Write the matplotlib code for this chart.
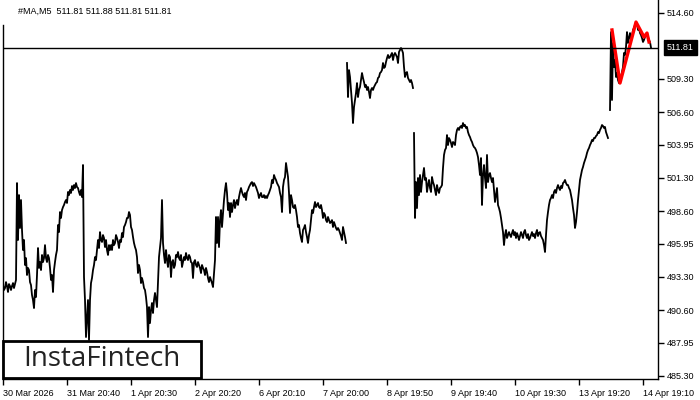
import numpy as np
import matplotlib
matplotlib.use("Agg")
import matplotlib.pyplot as plt
from matplotlib.patches import Rectangle

# ---------------- Data ----------------
title = "#MA,M5  511.81 511.88 511.81 511.81"
last_price = 511.81

time_labels = ["30 Mar 2026", "31 Mar 20:40", "1 Apr 20:30", "2 Apr 20:20",
               "6 Apr 20:10", "7 Apr 20:00", "8 Apr 19:50", "9 Apr 19:40",
               "10 Apr 19:30", "13 Apr 19:20", "14 Apr 19:10"]
time_step = 64  # chart steps between time labels

price_ticks = [514.60, 509.30, 506.60, 503.95, 501.30, 498.60,
               495.95, 493.30, 490.60, 487.95, 485.30]

# price segments (chart step index where each one starts, then values)
seg1_start = 0
seg1 = [492.62, 492.22, 492.38, 492.86, 492.54, 492.06, 492.70, 492.54, 492.22, 492.54,
        492.78, 492.38, 492.70, 493.03, 500.86, 496.26, 499.89, 497.23, 499.49, 497.07,
        495.45, 496.26, 494.24, 494.80, 493.43, 494.00, 493.83, 492.86, 492.62, 491.81,
        491.41, 490.76, 492.22, 491.65, 493.43, 495.61, 494.00, 494.48, 493.83, 495.05,
        494.48, 494.80, 495.85, 494.80, 494.48, 495.05, 494.80, 494.00, 493.03, 493.43,
        492.06, 493.83, 494.48, 495.05, 495.45, 497.47, 496.90, 498.52, 498.04, 498.68,
        498.92, 499.09, 499.33, 499.49, 499.25, 500.14, 499.89, 500.30, 500.06, 500.62,
        500.30, 500.70, 500.46, 500.86, 500.54, 500.46, 500.14, 499.89, 500.30, 499.73,
        502.32, 493.27, 491.41, 488.42, 489.96, 491.41, 488.18, 491.41, 492.78, 493.19,
        493.83, 494.24, 494.88, 494.64, 495.45, 496.26, 495.61, 496.90, 496.26, 496.10,
        496.66, 496.42, 495.69, 496.26, 495.45, 495.05, 495.85, 495.45, 495.85, 495.45,
        496.26, 495.85, 496.02, 496.66, 496.42, 496.10, 495.61, 496.26, 496.10, 496.82,
        496.50, 497.31, 497.47, 497.71, 498.04, 498.04, 498.52, 498.28, 497.31, 497.07,
        496.50, 496.02, 495.69, 495.45, 494.88, 493.59, 494.24, 493.83, 492.78, 493.19,
        492.86, 492.38, 492.22, 491.65, 490.84, 488.42, 490.84, 489.55, 490.60, 491.17,
        490.36, 491.41, 491.98, 491.41, 490.84, 492.78, 494.88, 495.61, 496.42, 499.49,
        496.02, 495.05, 494.40, 495.45, 494.64, 494.08, 495.05, 494.88, 493.27, 494.48,
        494.64, 494.00, 494.24, 495.05, 494.88, 495.29, 494.80, 494.64, 495.05, 494.08,
        494.48, 494.88, 494.64, 495.21, 494.80, 494.64, 495.05, 494.88, 494.48, 494.40,
        493.19, 494.48, 494.64, 494.24, 494.08, 494.48, 494.24, 494.00, 493.59, 494.24,
        494.00, 493.83, 493.43, 494.00, 493.67, 493.19, 492.86, 493.27, 493.03, 492.78,
        492.46, 493.59, 494.64, 498.12, 496.02, 498.12, 495.69, 497.87, 498.68, 497.31,
        498.44, 499.49, 500.30, 500.86, 500.06, 498.68, 499.25, 498.12, 499.25, 498.52,
        499.09, 499.49, 498.84, 499.25, 499.49, 499.09, 499.73, 500.14, 500.46, 500.14,
        499.89, 499.73, 500.06, 499.49, 500.14, 500.30, 500.54, 500.70, 500.86, 500.94,
        500.62, 500.86, 500.70, 500.54, 500.30, 500.06, 499.65, 499.89, 500.06, 499.73,
        499.73, 499.89, 499.65, 499.81, 499.65, 499.89, 500.06, 500.30, 500.54, 501.11,
        500.86, 501.51, 501.27, 501.11, 500.86, 500.70, 500.54, 500.06, 499.73, 498.52,
        500.54, 501.11, 501.35, 502.48, 501.91, 501.35, 500.06, 498.44, 499.89, 499.49,
        498.92, 498.84, 499.09, 498.68, 498.12, 497.31, 497.47, 496.82, 496.42, 496.10,
        497.07, 497.23, 497.47, 496.90, 496.50, 496.02, 496.66, 497.07, 497.87, 498.68,
        498.44, 498.92, 499.33, 498.92, 499.09, 499.25, 498.92, 498.84, 499.09, 498.68,
        498.04, 498.44, 498.28, 497.87, 497.71, 498.12, 497.87, 497.63, 497.71, 497.87,
        497.31, 497.71, 497.47, 497.23, 497.07, 497.23, 497.07, 496.82, 496.58, 496.26,
        497.31, 496.90, 496.50, 496.02]

seg2_start = 344
seg2 = [510.56, 507.81, 509.99, 509.43, 508.38, 507.33, 505.71, 507.00, 507.57, 508.14,
        508.94, 507.81, 508.38, 508.62, 509.19, 509.75, 509.35, 509.02, 508.62, 508.78,
        508.38, 508.62, 508.22, 507.73, 508.38, 508.54, 508.38, 508.62, 508.78, 508.94,
        509.02, 509.35, 509.43, 509.75, 509.83, 509.99, 510.56, 510.16, 510.24, 510.64,
        510.96, 511.21, 510.96, 511.04, 511.21, 511.37, 510.80, 511.21, 511.37, 511.21,
        511.04, 510.56, 511.45, 511.61, 511.77, 511.61, 511.37, 510.24, 509.43, 509.75,
        509.83, 509.35, 509.19, 509.02, 509.19, 508.94, 508.54]

seg3_start = 411
seg3 = [504.90, 498.04, 500.94, 498.84, 501.27, 499.89, 501.51, 500.14, 500.94, 501.51,
        502.08, 501.11, 501.27, 500.14, 500.70, 501.11, 500.46, 500.14, 501.35, 500.94,
        500.70, 500.30, 499.89, 500.70, 500.30, 500.06, 500.46, 500.54, 500.70, 502.08,
        503.13, 503.53, 503.69, 504.74, 503.93, 504.50, 504.34, 504.10, 503.77, 504.18,
        504.10, 503.93, 504.74, 505.15, 505.31, 505.15, 505.39, 505.47, 505.31, 505.71,
        505.47, 505.55, 505.31, 505.39, 504.98, 504.74, 504.58, 504.34, 504.18, 503.93,
        503.77, 503.69, 503.53, 503.29, 502.96, 502.32, 501.51, 502.88, 499.09, 501.51,
        502.32, 501.27, 500.46, 503.13, 500.94, 501.51, 501.67, 501.27, 500.94, 501.27,
        500.30, 499.33, 499.89, 500.46, 499.09, 498.84, 498.52, 498.04, 497.47, 496.90,
        495.85, 496.66, 497.07, 496.42, 496.66, 496.90, 496.66, 496.50, 496.82, 497.07,
        496.66, 496.90, 496.42, 496.82, 496.58, 496.26, 496.58, 496.90, 496.66, 496.42,
        496.90, 497.07, 496.66, 496.42, 496.74, 496.26, 496.42, 496.66, 496.90, 496.58,
        496.74, 496.42, 496.82, 497.07, 496.58, 496.82, 496.90, 496.58, 496.42, 496.26,
        495.85, 495.29, 496.66, 497.87, 498.52, 499.09, 499.49, 499.65, 499.89, 499.65,
        500.14, 500.30, 500.06, 500.46, 500.70, 500.46, 500.30, 500.62, 500.46, 500.86,
        500.94, 501.11, 500.86, 500.70, 500.70, 500.46, 500.30, 499.89, 499.49, 498.84,
        498.28, 497.23, 497.71, 498.52, 499.49, 500.30, 501.11, 501.51, 501.91, 502.16,
        502.48, 502.72, 502.96, 503.29, 503.53, 503.69, 503.93, 504.10, 504.34, 504.26,
        504.50, 504.50, 504.66, 504.74, 504.98, 504.90, 505.15, 505.31, 505.55, 505.47,
        505.31, 505.39, 504.98, 504.74, 504.50]

seg4_start = 607
seg4 = [506.76, 513.06, 507.57, 512.18, 510.24, 510.80, 509.43, 509.75, 509.19, 508.94,
        509.35, 509.43, 509.83, 510.24, 511.37, 511.21, 511.85, 513.06, 512.18, 512.58,
        512.98, 512.42, 512.66, 513.23, 513.39, 513.63, 513.71, 513.79, 513.23, 513.39,
        512.98, 512.82, 512.58, 512.26, 512.42, 512.66, 512.82, 512.98, 512.66, 512.42,
        512.26, 511.81]

# red pattern overlay
pattern_x = [609, 617, 633, 641, 644, 646]
pattern_y = [513.23, 508.94, 513.87, 512.66, 512.98, 512.26]

# ---------------- Figure ----------------
W, H = 700, 400
plt.rcParams["font.family"] = ["Liberation Sans", "DejaVu Sans"]
fig = plt.figure(figsize=(7, 4), dpi=100)
ax = fig.add_axes([3 / W, 21 / H, 655 / W, 379 / H])
ax.set_xlim(0, 655)
ax.set_ylim(485.03, 515.65)

for start, vals in [(seg1_start, seg1), (seg2_start, seg2),
                    (seg3_start, seg3), (seg4_start, seg4)]:
    xs = np.arange(start, start + len(vals))
    ax.plot(xs, vals, color="black", lw=1.3)

ax.plot(pattern_x, pattern_y, color="#ff0000", lw=2.4, solid_joinstyle="round")
ax.axhline(last_price, color="black", lw=1.0)

# axes look
ax.spines["top"].set_visible(False)
ax.spines["left"].set_bounds(485.03, 513.63)
for s in ["left", "right", "bottom"]:
    ax.spines[s].set_linewidth(1.0)

ax.yaxis.tick_right()
ax.set_yticks(price_ticks)
ax.set_yticklabels([f"{p:.2f}" for p in price_ticks])
ax.tick_params(axis="y", direction="out", length=4, width=1, labelsize=6.5, pad=2)

xt = np.arange(len(time_labels)) * time_step
ax.set_xticks(xt)
ax.set_xticklabels(time_labels, ha="left")
ax.tick_params(axis="x", direction="out", length=4, width=1, labelsize=6.5, pad=3)

# last price tag
ax.annotate(f"{last_price:.2f}", xy=(1, last_price), xycoords=("axes fraction", "data"),
            xytext=(6.5, 0), textcoords="offset points", color="white", fontsize=6.5,
            va="center", ha="left",
            bbox=dict(boxstyle="square,pad=0.35", fc="black", ec="black"),
            annotation_clip=False)

fig.text(18 / W, 1 - 11 / H, title, fontsize=6.5, va="center", ha="left")

# logo
fig.add_artist(Rectangle((3 / W, 1 - 378 / H), 198 / W, 37 / H, transform=fig.transFigure,
                         facecolor="white", edgecolor="black", lw=2, zorder=5))
fig.text(102 / W, 1 - 359 / H, "InstaFintech", fontsize=20, family="Open Sans",
         color="#222222", ha="center", va="center", zorder=6)

fig.savefig("out.png", dpi=100)
